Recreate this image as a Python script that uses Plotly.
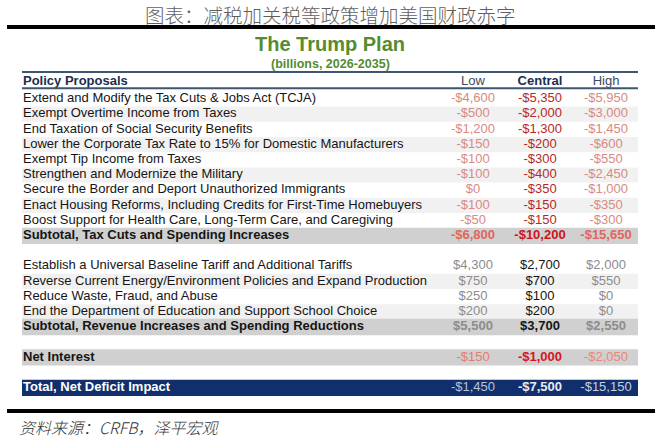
import plotly.graph_objects as go

# ---- data (billions, 2026-2035) ----
columns = ["Low", "Central", "High"]

tax_items = [
    "Extend and Modify the Tax Cuts & Jobs Act (TCJA)",
    "Exempt Overtime Income from Taxes",
    "End Taxation of Social Security Benefits",
    "Lower the Corporate Tax Rate to 15% for Domestic Manufacturers",
    "Exempt Tip Income from Taxes",
    "Strengthen and Modernize the Military",
    "Secure the Border and Deport Unauthorized Immigrants",
    "Enact Housing Reforms, Including Credits for First-Time Homebuyers",
    "Boost Support for Health Care, Long-Term Care, and Caregiving",
]
tax_low = [-4600, -500, -1200, -150, -100, -100, 0, -100, -50]
tax_central = [-5350, -2000, -1300, -200, -300, -400, -350, -150, -150]
tax_high = [-5950, -3000, -1450, -600, -550, -2450, -1000, -350, -300]
tax_subtotal = [-6800, -10200, -15650]

rev_items = [
    "Establish a Universal Baseline Tariff and Additional Tariffs",
    "Reverse Current Energy/Environment Policies and Expand Production",
    "Reduce Waste, Fraud, and Abuse",
    "End the Department of Education and Support School Choice",
]
rev_low = [4300, 750, 250, 200]
rev_central = [2700, 700, 100, 200]
rev_high = [2000, 550, 0, 0]
rev_subtotal = [5500, 3700, 2550]

net_interest = [-150, -1000, -2050]
total_impact = [-1450, -7500, -15150]


def money(v):
    return ("-$" if v < 0 else "$") + f"{abs(v):,}"


# ---- styles per row kind: label colour, (low, central, high) colours, bold flags ----
styles = {
    "tax": ("#151515", ("#d98a82", "#b42a26", "#d98a82"), (False, False, False), False),
    "tax_sub": ("#151515", ("#e0665c", "#cc1518", "#e0665c"), (True, True, True), True),
    "rev": ("#151515", ("#8c8c8c", "#151515", "#8c8c8c"), (False, False, False), False),
    "rev_sub": ("#151515", ("#8c8c8c", "#151515", "#8c8c8c"), (True, True, True), True),
    "net": ("#151515", ("#e57b6b", "#d8151b", "#e88878"), (False, True, False), True),
    "total": ("#ffffff", ("#b9c3d9", "#e9ebf2", "#c9d0e0"), (False, True, False), True),
}
band_colors = {"stripe": "#f1f1f1", "sub": "#d0d0d0", "total": "#102f6c"}

# build the row list
rows = []
for i, name in enumerate(tax_items):
    rows.append((name, [tax_low[i], tax_central[i], tax_high[i]], "tax", "stripe" if i % 2 else None))
rows.append(("Subtotal, Tax Cuts and Spending Increases", tax_subtotal, "tax_sub", "sub"))
rows.append(None)
for i, name in enumerate(rev_items):
    rows.append((name, [rev_low[i], rev_central[i], rev_high[i]], "rev", "stripe" if i % 2 else None))
rows.append(("Subtotal, Revenue Increases and Spending Reductions", rev_subtotal, "rev_sub", "sub"))
rows.append(None)
rows.append(("Net Interest", net_interest, "net", "sub"))
rows.append(None)
rows.append(("Total, Net Deficit Impact", total_impact, "total", "total"))

# layout geometry (x in px of the 660 wide page, y in row units)
tbl_left, tbl_right = 22, 638
label_x = 23
col_x = [473, 540, 606]
header_y = -1.15
font = "Liberation Sans, Arial, sans-serif"

fig = go.Figure()

# row bands
for band in ["stripe", "sub", "total"]:
    ys = [k for k, r in enumerate(rows) if r and r[3] == band]
    fig.add_trace(go.Bar(
        y=ys, x=[tbl_right - tbl_left] * len(ys), base=tbl_left,
        orientation="h", width=1.0 if band == "stripe" else 1.07,
        marker=dict(color=band_colors[band], line=dict(width=0)),
        hoverinfo="skip",
    ))

# label column
idx = [k for k, r in enumerate(rows) if r]
fig.add_trace(go.Scatter(
    x=[label_x] * len(idx), y=idx, mode="text", textposition="middle right",
    text=[f"<b>{rows[k][0]}</b>" if styles[rows[k][2]][3] else rows[k][0] for k in idx],
    textfont=dict(family=font, size=13, color=[styles[rows[k][2]][0] for k in idx]),
    hoverinfo="skip",
))

# value columns
for c, cx in enumerate(col_x):
    txt = []
    for k in idx:
        s = money(rows[k][1][c])
        txt.append(f"<b>{s}</b>" if styles[rows[k][2]][2][c] else s)
    fig.add_trace(go.Scatter(
        x=[cx] * len(idx), y=idx, mode="text", textposition="middle center",
        text=txt,
        textfont=dict(family=font, size=13, color=[styles[rows[k][2]][1][c] for k in idx]),
        hoverinfo="skip",
    ))

# header row
fig.add_trace(go.Scatter(
    x=[label_x], y=[header_y], mode="text", textposition="middle right",
    text=["<b>Policy Proposals</b>"],
    textfont=dict(family=font, size=13, color="#1b2f4f"), hoverinfo="skip",
))
fig.add_trace(go.Scatter(
    x=col_x, y=[header_y] * 3, mode="text", textposition="middle center",
    text=[f"<b>{h}</b>" if h == "Central" else h for h in columns],
    textfont=dict(family=font, size=13, color=["#3a4a62", "#1b2f4f", "#3a4a62"]),
    hoverinfo="skip",
))

# header rules
for yy in [header_y - 0.63, header_y + 0.45]:
    fig.add_shape(type="line", xref="x", yref="y", x0=tbl_left, x1=tbl_right, y0=yy, y1=yy,
                  line=dict(color="#3f5670", width=2))
# thick page rules
for yp in [1 - 27 / 440, 1 - 411 / 440]:
    fig.add_shape(type="line", xref="paper", yref="paper", x0=7 / 660, x1=655 / 660, y0=yp, y1=yp,
                  line=dict(color="#000000", width=4))

# titles
fig.add_annotation(text="图表：减税加关税等政策增加美国财政赤字", xref="paper", yref="paper",
                   x=0.5, y=1 - 14 / 440, showarrow=False, xanchor="center", yanchor="middle",
                   borderpad=0,
                   font=dict(family="Noto Sans CJK SC", size=19.5, color="#5f5f5f", weight=300))
fig.add_annotation(text="<b>The Trump Plan</b>", xref="paper", yref="paper",
                   x=0.5, y=1 - 44 / 440, showarrow=False, xanchor="center", yanchor="middle",
                   font=dict(family=font, size=20, color="#548c2f"))
fig.add_annotation(text="<b>(billions, 2026-2035)</b>", xref="paper", yref="paper",
                   x=0.5, y=1 - 64 / 440, showarrow=False, xanchor="center", yanchor="middle",
                   font=dict(family=font, size=12.5, color="#548c2f"))
fig.add_annotation(text="<i>资料来源：CRFB，泽平宏观</i>", xref="paper", yref="paper",
                   x=18 / 660, y=1 - 427 / 440, showarrow=False, xanchor="left", yanchor="middle",
                   width=260, align="left", borderpad=0,
                   font=dict(family="Noto Sans CJK SC", size=16, color="#333333", weight=300))

pitch = 15.2
first_row_px = 99
fig.update_layout(
    width=660, height=440,
    margin=dict(l=0, r=0, t=0, b=0),
    paper_bgcolor="white", plot_bgcolor="white",
    showlegend=False, barmode="overlay",
    xaxis=dict(range=[0, 660], visible=False, fixedrange=True),
    yaxis=dict(range=[(440 - first_row_px) / pitch, -first_row_px / pitch],
               visible=False, fixedrange=True),
)

# drop the default page margin so the figure sits at the window corner
fig.write_html("out.html", config={"displayModeBar": False},
               post_script="document.body.style.margin='0';document.body.style.overflow='hidden';")
